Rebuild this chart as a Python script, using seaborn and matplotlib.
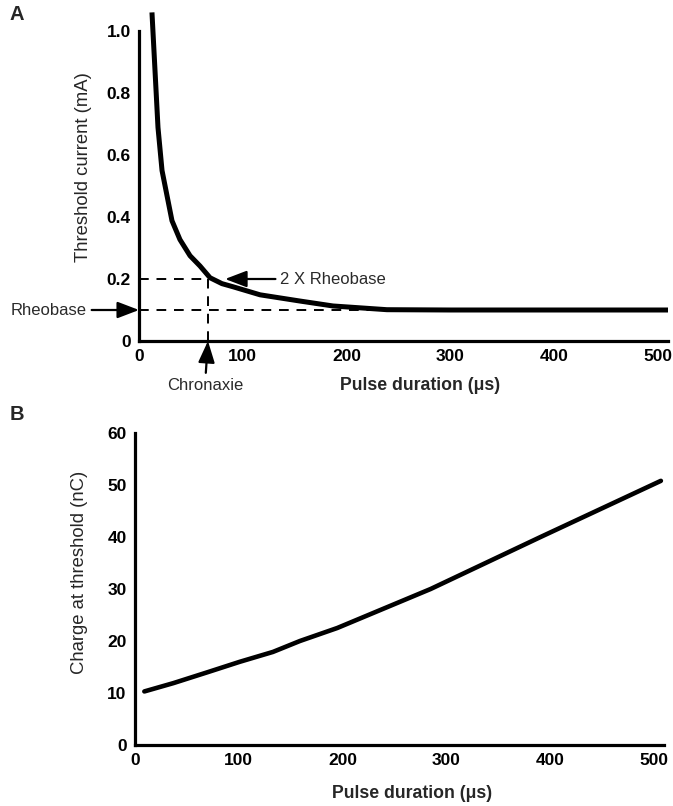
import matplotlib
matplotlib.use("Agg")
import matplotlib.pyplot as plt
import seaborn as sns
import pandas as pd

# ---- data ----
pulse_a = [12.5, 18.3, 22.2, 31.8, 39.5, 49.2, 58.8, 68.5, 80, 90.6, 116.7, 155, 187, 239,
           300, 400, 510]
current_a = [1.06, 0.689, 0.55, 0.388, 0.327, 0.275, 0.242, 0.204, 0.185, 0.175, 0.149,
             0.129, 0.113, 0.101, 0.100, 0.100, 0.100]
rheobase = 0.1
two_rheobase = 0.2
chronaxie = 66.5

pulse_b = [9, 37, 70, 101, 133, 159, 195, 285, 391, 507]
charge_b = [10.3, 11.9, 14.0, 16.0, 17.9, 20.0, 22.5, 30.0, 40.0, 50.8]

xticks = [0, 100, 200, 300, 400, 500]
xticklabels = ["0", "100", "200", "300", "400", "500"]
yticks_a = [0, 0.2, 0.4, 0.6, 0.8, 1.0]
yticklabels_a = ["0", "0.2", "0.4", "0.6", "0.8", "1.0"]
yticks_b = [0, 10, 20, 30, 40, 50, 60]
yticklabels_b = ["0", "10", "20", "30", "40", "50", "60"]

sns.set_style("white")
plt.rcParams["font.family"] = ["Liberation Sans", "DejaVu Sans"]

W, H = 673, 806
fig = plt.figure(figsize=(W / 100, H / 100), dpi=100)


def fx(px):
    return px / W


def fy(py):
    return 1 - py / H


axA = fig.add_axes([fx(139), fy(341), (668 - 139) / W, (341 - 31) / H])
axB = fig.add_axes([fx(135), fy(745), (664 - 135) / W, (745 - 433) / H])

dfA = pd.DataFrame({"pulse": pulse_a, "current": current_a})
dfB = pd.DataFrame({"pulse": pulse_b, "charge": charge_b})

sns.lineplot(data=dfA, x="pulse", y="current", ax=axA, color="black", lw=3.6,
             clip_on=False, solid_capstyle="butt", solid_joinstyle="round", zorder=5)
sns.lineplot(data=dfB, x="pulse", y="charge", ax=axB, color="black", lw=3.3,
             solid_capstyle="round", solid_joinstyle="round", zorder=5)

tick_font = dict(fontsize=12.5, fontweight="bold")
for ax, yt, ytl, ylim in [(axA, yticks_a, yticklabels_a, (0, 1.0)),
                          (axB, yticks_b, yticklabels_b, (0, 60))]:
    ax.set_xlim(0, 510)
    ax.set_ylim(*ylim)
    ax.set_xticks(xticks)
    ax.set_xticklabels(xticklabels, **tick_font)
    ax.set_yticks(yt)
    ax.set_yticklabels(ytl, **tick_font)
    for s in ["top", "right"]:
        ax.spines[s].set_visible(False)
    for s in ["left", "bottom"]:
        ax.spines[s].set_linewidth(2.3)
        ax.spines[s].set_color("black")
    ax.tick_params(axis="both", direction="in", length=3, width=1.2, colors="black",
                   pad=6)
    ax.set_xlabel("")
    ax.set_ylabel("")
    ax.patch.set_alpha(0)

# dashed guide lines in A
dash = dict(color="black", lw=1.4, ls=(0, (5, 4)), zorder=3)
axA.axhline(rheobase, **dash)
axA.plot([0, chronaxie], [two_rheobase, two_rheobase], **dash)
axA.plot([chronaxie, chronaxie], [0, two_rheobase], **dash)

arrow = dict(arrowstyle="-|>,head_length=1.1,head_width=0.42", color="black", lw=1.6,
             shrinkA=1, shrinkB=0, mutation_scale=12)
ann_font = dict(fontsize=12, color="#2a2a2a")

axA.annotate("Rheobase", xy=(0, rheobase), xycoords="data",
             xytext=(-52, 0), textcoords="offset pixels", ha="right", va="center",
             arrowprops=arrow, annotation_clip=False, **ann_font)
axA.annotate("2 X Rheobase", xy=(83, two_rheobase), xycoords="data",
             xytext=(55, 0), textcoords="offset pixels", ha="left", va="center",
             arrowprops=arrow, annotation_clip=False, **ann_font)
axA.annotate("Chronaxie", xy=(chronaxie, 0), xycoords="data",
             xytext=(-3, -44), textcoords="offset pixels", ha="center", va="center",
             arrowprops=arrow, annotation_clip=False, **ann_font)

# axis labels
fig.text(fx(420), fy(386), "Pulse duration (\u03bcs)", ha="center", va="center",
         fontsize=12.7, fontweight="bold")
fig.text(fx(412), fy(793), "Pulse duration (\u03bcs)", ha="center", va="center",
         fontsize=12.7, fontweight="bold")
fig.text(fx(84), fy(167), "Threshold current (mA)", ha="center", va="center",
         rotation=90, fontsize=13.3)
fig.text(fx(80), fy(572), "Charge at threshold (nC)", ha="center", va="center",
         rotation=90, fontsize=13.3)

# panel letters
fig.text(fx(17), fy(15), "A", ha="center", va="center", fontsize=14.5, fontweight="bold")
fig.text(fx(17), fy(415), "B", ha="center", va="center", fontsize=14.5, fontweight="bold")

fig.savefig("out.png", dpi=100, facecolor="white")
